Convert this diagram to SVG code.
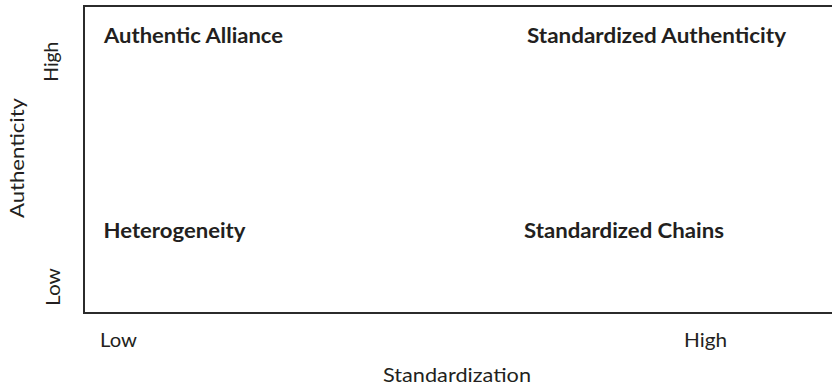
<svg xmlns="http://www.w3.org/2000/svg" width="832" height="389" viewBox="0 0 832 389">
  <style>
    .frame { fill: none; stroke: #2b2b2b; stroke-width: 2; }
    .quad { font-family: Lato, "Open Sans", "Liberation Sans", sans-serif; font-weight: bold; font-size: 21px; fill: #231f20; }
    .axis { font-family: Lato, "Open Sans", "Liberation Sans", sans-serif; font-size: 20px; fill: #231f20; }
  </style>
  <rect width="832" height="389" fill="#ffffff"/>

  <!-- open-ended frame: top, left and bottom edges -->
  <g id="connectors">
    <path class="frame" d="M832,6 H84 V313 H832"/>
  </g>

  <!-- quadrant labels -->
  <g id="authentic-alliance">
    <text class="quad" x="104" y="43" textLength="179" lengthAdjust="spacingAndGlyphs">Authentic Alliance</text>
  </g>
  <g id="standardized-authenticity">
    <text class="quad" x="527" y="43" textLength="259" lengthAdjust="spacingAndGlyphs">Standardized Authenticity</text>
  </g>
  <g id="heterogeneity">
    <text class="quad" x="103.5" y="238" textLength="142" lengthAdjust="spacingAndGlyphs">Heterogeneity</text>
  </g>
  <g id="standardized-chains">
    <text class="quad" x="524" y="238" textLength="200" lengthAdjust="spacingAndGlyphs">Standardized Chains</text>
  </g>

  <!-- horizontal axis -->
  <g id="x-axis">
    <text class="axis" x="100" y="347" textLength="37" lengthAdjust="spacingAndGlyphs">Low</text>
    <text class="axis" x="684" y="347" textLength="43" lengthAdjust="spacingAndGlyphs">High</text>
    <text class="axis" x="383" y="382" textLength="148" lengthAdjust="spacingAndGlyphs">Standardization</text>
  </g>

  <!-- vertical axis -->
  <g id="y-axis">
    <text class="axis" transform="translate(58,61.7) rotate(-90)" text-anchor="middle" textLength="40" lengthAdjust="spacingAndGlyphs">High</text>
    <text class="axis" transform="translate(24,158) rotate(-90)" text-anchor="middle" textLength="120" lengthAdjust="spacingAndGlyphs">Authenticity</text>
    <text class="axis" transform="translate(60,287) rotate(-90)" text-anchor="middle" textLength="38" lengthAdjust="spacingAndGlyphs">Low</text>
  </g>
</svg>
